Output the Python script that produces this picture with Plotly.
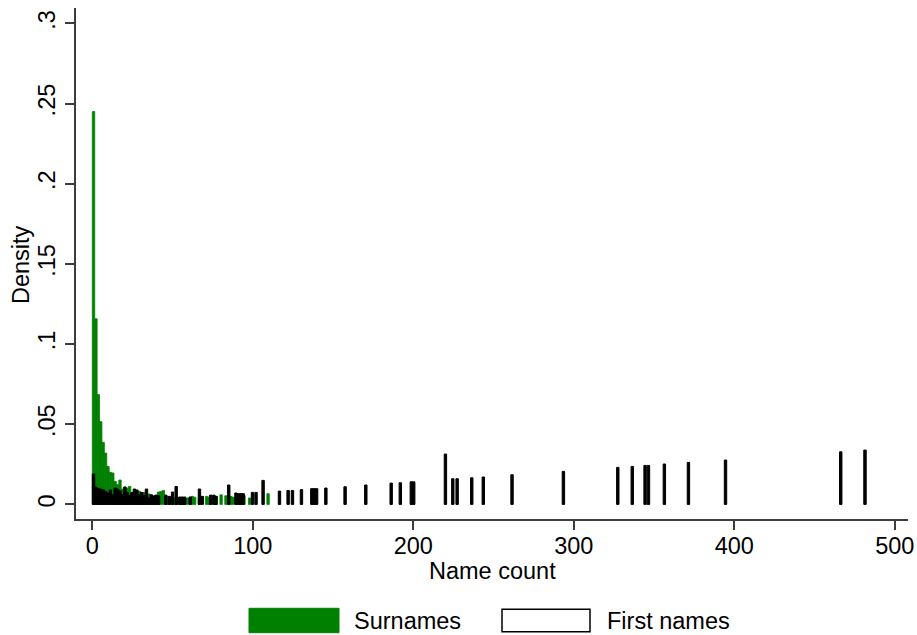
import plotly.graph_objects as go

# ---- data ----
bin_width = 1.5

surname_x = [0.75, 2.25, 3.75, 5.25, 6.75, 8.25, 9.75, 11.25, 12.75, 14.25, 15.75, 17.25,
             18.75, 20.25, 21.75, 23.25, 24.75, 26.25, 27.75, 29.25, 30.75, 32.25, 33.75,
             35.25, 36.75, 38.25, 39.75, 41.25, 42.75, 44.25, 45.75, 47.25, 48.75, 50.25,
             51.75, 53.25, 54.75, 56.25, 57.75, 59.25, 62.25, 63.75, 66.75, 71.25, 72.75,
             75.75, 77.25, 80.25, 83.25, 86.25, 87.75, 92.25, 94.5, 98.0, 109.5]
surname_density = [0.245, 0.1158, 0.0685, 0.0516, 0.0387, 0.032, 0.0237, 0.0200, 0.0196,
                   0.0143, 0.0123, 0.0152, 0.0096, 0.0108, 0.0102, 0.0112, 0.0075, 0.0088,
                   0.0070, 0.0082, 0.0068, 0.0075, 0.0060, 0.0065, 0.0046, 0.0055, 0.0050,
                   0.0077, 0.0080, 0.0087, 0.0045, 0.0050, 0.0040, 0.0045, 0.0040, 0.0038,
                   0.0035, 0.0040, 0.0035, 0.0040, 0.0050, 0.0045, 0.0040, 0.0050, 0.0045,
                   0.0050, 0.0050, 0.0060, 0.0054, 0.0050, 0.0045, 0.0040, 0.0055, 0.0040,
                   0.0067]

first_x = [0.75, 2.25, 3.75, 5.25, 6.75, 8.25, 9.75, 11.25, 12.75, 14.25, 15.75, 17.25,
           18.75, 20.25, 21.75, 23.25, 24.75, 26.25, 27.75, 29.25, 30.75, 32.25, 33.75,
           35.25, 36.75, 38.25, 39.75, 41.25, 45.75, 48.0, 50.0, 52.25, 54.5, 56.0, 57.5,
           61.0, 66.75, 68.5, 73.75, 75.75, 77.0, 85.0, 89.5, 91.0, 92.5, 94.0, 99.8,
           102.0, 106.4, 116.6, 122.0, 124.7, 130.3, 136.75, 138.25, 139.75, 145.5,
           157.5, 170.4, 186.2, 191.9, 198.75, 200.25, 220.0, 224.6, 227.3, 236.4,
           243.6, 261.5, 293.5, 327.4, 336.4, 344.4, 346.5, 356.4, 371.4, 394.5,
           466.3, 481.4]
first_density = [0.019, 0.0108, 0.0100, 0.0096, 0.0092, 0.0081, 0.0071, 0.0090, 0.0060,
                 0.0102, 0.0095, 0.0085, 0.0060, 0.0108, 0.0075, 0.0055, 0.0073, 0.0096,
                 0.0090, 0.0060, 0.0075, 0.0055, 0.0096, 0.0040, 0.0060, 0.0050, 0.0058,
                 0.0055, 0.0058, 0.0050, 0.0077, 0.0112, 0.0046, 0.0046, 0.0046, 0.0046,
                 0.0096, 0.0050, 0.0058, 0.0058, 0.0050, 0.0121, 0.0071, 0.0067, 0.0067,
                 0.0067, 0.0075, 0.0075, 0.0150, 0.0083, 0.0087, 0.0087, 0.0092, 0.0098,
                 0.0098, 0.0098, 0.0102, 0.0110, 0.0121, 0.0133, 0.0135, 0.0141, 0.0141,
                 0.0314, 0.0160, 0.0160, 0.0166, 0.0171, 0.0185, 0.0206, 0.0231, 0.0237,
                 0.0243, 0.0243, 0.0252, 0.0262, 0.0277, 0.0328, 0.0339]

x_ticks = [0, 100, 200, 300, 400, 500]
y_ticks = [0, 0.05, 0.1, 0.15, 0.2, 0.25, 0.3]
y_tick_labels = ["0", ".05", ".1", ".15", ".2", ".25", ".3"]
series_names = ["Surnames", "First names"]
x_title = "Name count"
y_title = "Density"

GREEN = "#008000"
FONT = "Liberation Sans"
FS = 23.5
AXC = "#3c3c3c"

fig = go.Figure()
fig.add_trace(go.Bar(
    x=surname_x, y=surname_density, width=bin_width, name=series_names[0],
    marker=dict(color=GREEN, line=dict(color=GREEN, width=0.8)), opacity=1,
))
fig.add_trace(go.Bar(
    x=first_x, y=first_density, width=bin_width, name=series_names[1],
    marker=dict(color="black", line=dict(color="black", width=1.0)), opacity=1,
))

fig.update_layout(
    width=917, height=635,
    margin=dict(l=76, r=9, t=8, b=116),
    paper_bgcolor="white", plot_bgcolor="white",
    barmode="overlay", showlegend=False,
    font=dict(family=FONT, size=FS, color="black"),
)
fig.update_xaxes(
    range=[-10.16, 508.2], tickvals=x_ticks, ticktext=[str(v) for v in x_ticks],
    automargin=False,
    showgrid=False, zeroline=False, showline=True, linecolor=AXC, linewidth=1.5,
    ticks="outside", ticklen=9, tickwidth=1.5, tickcolor=AXC,
    ticklabelstandoff=-4,
    tickfont=dict(family=FONT, size=FS),
)
fig.update_yaxes(
    range=[-0.0091, 0.3096], tickvals=y_ticks, ticktext=y_tick_labels,
    automargin=False,
    showgrid=False, zeroline=False, showline=True, linecolor=AXC, linewidth=1.5,
    ticks="outside", ticklen=9, tickwidth=1.5, tickcolor=AXC, tickangle=-90,
    ticklabelstandoff=1,
    tickfont=dict(family=FONT, size=FS),
)

# helpers: page pixels -> paper coordinates
def px_x(p):
    return (p - 76) / 832.0

def px_y(p):
    return (519 - p) / 511.0

# axis titles
fig.add_annotation(xref="paper", yref="paper", x=px_x(492), y=px_y(571),
                   text=x_title, showarrow=False, xanchor="center", yanchor="middle",
                   font=dict(family=FONT, size=FS))
fig.add_annotation(xref="paper", yref="paper", x=px_x(21), y=px_y(265),
                   text=y_title, showarrow=False, xanchor="center", yanchor="middle",
                   textangle=-90, font=dict(family=FONT, size=FS))

# legend drawn below the plot
fig.add_shape(type="rect", xref="paper", yref="paper",
              x0=px_x(249), x1=px_x(339), y0=px_y(632.7), y1=px_y(608.3),
              fillcolor=GREEN, line=dict(color=GREEN, width=1))
fig.add_shape(type="rect", xref="paper", yref="paper",
              x0=px_x(502), x1=px_x(590), y0=px_y(631.7), y1=px_y(609.3),
              fillcolor="white", line=dict(color="black", width=1.5))
fig.add_annotation(xref="paper", yref="paper", x=px_x(352), y=px_y(620.5),
                   text=series_names[0], showarrow=False, xanchor="left", yanchor="middle",
                   font=dict(family=FONT, size=FS))
fig.add_annotation(xref="paper", yref="paper", x=px_x(604.5), y=px_y(620.5),
                   text=series_names[1], showarrow=False, xanchor="left", yanchor="middle",
                   font=dict(family=FONT, size=FS))

fig.write_html(
    "out.html",
    config={"displayModeBar": False},
    post_script="document.body.style.margin='0';document.body.style.overflow='hidden';",
)
